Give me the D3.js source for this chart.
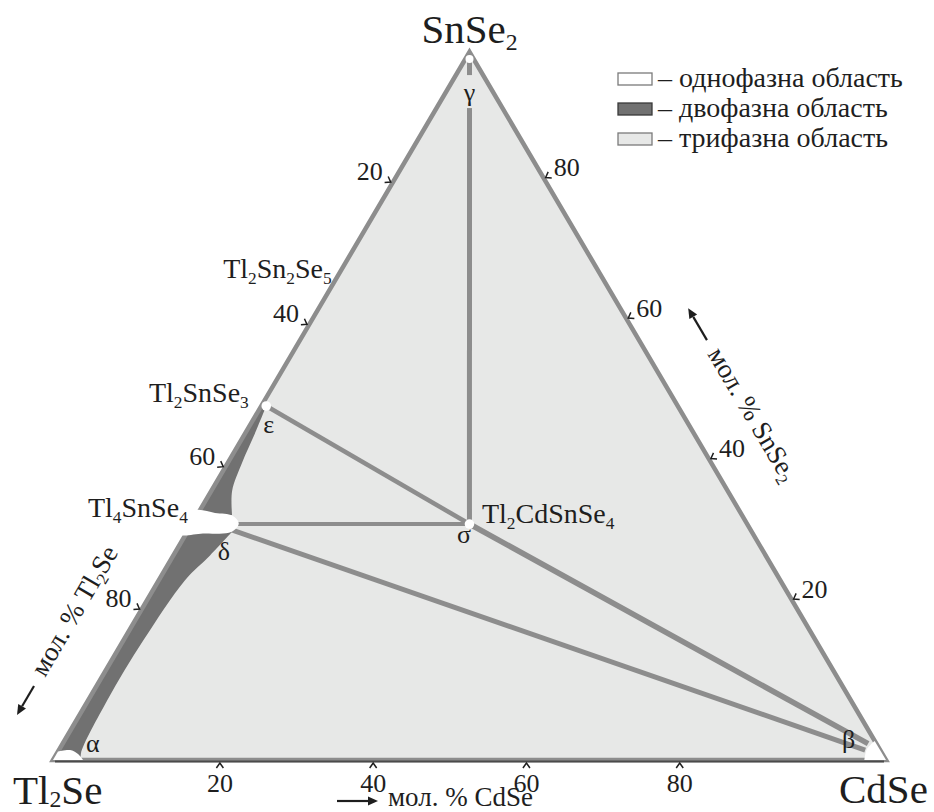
<!DOCTYPE html>
<html><head><meta charset="utf-8">
<script src="https://cdn.jsdelivr.net/npm/d3@7"></script>
<style>
body{margin:0;background:#fff;}
</style></head><body>
<svg id="chart" width="934" height="812"></svg>
<script>
// ---------------- DATA (compositions in mol. %: [CdSe, SnSe2]; Tl2Se = 100 - both) ----------------
const vertexLabels = ["Tl_2Se", "CdSe", "SnSe_2"];
const vertexComps  = [[0, 0], [100, 0], [0, 100]];
const tickValues   = [20, 40, 60, 80];
const axisTitles   = ["мол. % CdSe", "мол. % SnSe_2", "мол. % Tl_2Se"];
const legendLabels = ["однофазна область", "двофазна область", "трифазна область"];
const legendColors = ["#ffffff", "#717171", "#e7e8e7"];
const compoundNames = ["Tl_2Sn_2Se_5", "Tl_2SnSe_3", "Tl_4SnSe_4", "Tl_2CdSnSe_4"];
const compoundComps = [[0, 66.67], [0, 50], [0, 33.33], [33.33, 33.33]];
const phaseNames = ["α", "β", "γ", "δ", "ε", "σ"];

// single-phase points / regions
const pointGamma   = [0.5, 99];
const pointEpsilon = [0.6, 50];
const pointSigma   = [33.33, 33.33];
const alphaRegion  = [[0, 1.2], [1.34, 1.41], [2.58, 0.85], [3.6, 0]];
const betaRegion   = [[97.3, 2.68], [96.94, 1.54], [97.4, 0]];
const deltaRegion  = [[-0.7, 35.2], [2, 34.9], [4.3, 34.5], [5.6, 33.4], [5.3, 32.2], [2, 32.0], [-0.7, 31.9]];

// tie-line ends
const deltaTieTop    = [4.8, 33.33];
const deltaTieBottom = [5.2, 32.5];
const betaTieUpper   = [96.7, 2.3];
const betaTieLower   = [96.8, 1.4];
const tieLines = [
  [pointGamma, pointSigma],
  [pointEpsilon, pointSigma],
  [deltaTieTop, pointSigma],
  [pointSigma, betaTieUpper],
  [deltaTieBottom, betaTieLower]
];
const tieWidths = [5, 4.5, 4, 5.5, 5];

// two-phase regions (edge part + curved inner boundary)
const alphaDeltaEdge  = [[0, 0], [0, 32.3]];
const alphaDeltaInner = [[5.4, 32.3], [4.4, 28.9], [3.15, 25.4], [2.4, 16.9], [2.3, 8.5], [2.9, 0.9], [3.4, 0]];
const deltaEpsEdge    = [[0, 34.6], [0, 50]];
const deltaEpsInner   = [[0.6, 50], [1.2, 46], [1.7, 42], [2.5, 38], [4.2, 34.6]];

// ---------------- LAYOUT ----------------
const FONT = "'Liberation Serif', 'Times New Roman', serif";
const svg = d3.select("#chart");
const xS = d3.scaleLinear().domain([0, 100]).range([53, 886]);
const yS = d3.scaleLinear().domain([0, 100]).range([760, 52]);
const P = c => [xS(c[0] + c[1] / 2), yS(c[1])];

// printed tick scales (as drawn in the original figure)
const bottomTick = d3.scaleLinear().domain([0, 100]).range([66.6, 833]);
const leftTick   = d3.scaleLinear().domain([0, 100]).range([40.7, 752.3]);   // Tl2Se % -> y
const rightTick  = d3.scaleLinear().domain([0, 100]).range([740.5, 38]);     // SnSe2 % -> y

const V = vertexComps.map(P); // [Tl2Se, CdSe, SnSe2]
const col = {fill: "#e7e8e7", dark: "#717171", line: "#8d8d8d", text: "#1e1e1e"};

function txt(parent, x, y, size, anchor) {
  return parent.append("text").attr("x", x).attr("y", y).attr("font-size", size)
    .attr("text-anchor", anchor || "start").style("font-family", FONT).attr("fill", col.text);
}
function rich(sel, str, subScale, shift) {
  const fs = parseFloat(sel.attr("font-size"));
  const parts = str.split(/_(\d)/);
  parts.forEach((p, i) => {
    if (!p) return;
    if (i % 2 === 1) {
      sel.append("tspan").attr("font-size", fs * subScale).attr("dy", shift).text(p);
    } else {
      const t = sel.append("tspan").text(p);
      if (i > 0) t.attr("dy", -shift);
    }
  });
  return sel;
}

// triangle fill
svg.append("path").attr("d", "M" + V.map(v => v.join(",")).join("L") + "Z").attr("fill", col.fill);

// two-phase dark regions
const curveLine = d3.line().x(d => P(d)[0]).y(d => P(d)[1]).curve(d3.curveCatmullRom);
function bandPath(edge, inner) {
  const e = edge.map(P);
  return "M" + e[0].join(",") + "L" + e[1].join(",") + "L" + curveLine(inner).slice(1) + "Z";
}
svg.append("path").attr("d", bandPath(alphaDeltaEdge, alphaDeltaInner)).attr("fill", col.dark);
svg.append("path").attr("d", bandPath(deltaEpsEdge, deltaEpsInner)).attr("fill", col.dark);

// tie lines
svg.selectAll("line.tie").data(tieLines).join("line").attr("class", "tie")
  .attr("x1", d => P(d[0])[0]).attr("y1", d => P(d[0])[1])
  .attr("x2", d => P(d[1])[0]).attr("y2", d => P(d[1])[1])
  .attr("stroke", col.line).attr("stroke-width", (d, i) => tieWidths[i]);

// triangle edges
svg.append("path").attr("d", "M" + V.map(v => v.join(",")).join("L") + "Z")
  .attr("fill", "none").attr("stroke", col.line).attr("stroke-width", 4.5).attr("stroke-linejoin", "miter");
svg.append("line").attr("x1", V[0][0] + 2).attr("x2", V[1][0] - 2).attr("y1", V[0][1] + 1.5).attr("y2", V[1][1] + 1.5)
  .attr("stroke", "#4a4a4a").attr("stroke-width", 1.8);

// single-phase regions (white)
function cornerPath(corner, arc) {
  const c = P(corner);
  return "M" + c.join(",") + "L" + curveLine(arc).slice(1) + "Z";
}
svg.append("path").attr("d", cornerPath(vertexComps[0], alphaRegion)).attr("fill", "#fff");
svg.append("path").attr("d", cornerPath(vertexComps[1], betaRegion)).attr("fill", "#fff");
svg.append("path").attr("d", d3.line().x(d => P(d)[0]).y(d => P(d)[1]).curve(d3.curveCatmullRomClosed)(deltaRegion))
  .attr("fill", "#fff");
svg.selectAll("circle.pt").data([pointGamma, pointEpsilon, pointSigma]).join("circle").attr("class", "pt")
  .attr("cx", d => P(d)[0]).attr("cy", d => P(d)[1]).attr("r", (d, i) => i === 0 ? 4 : 4.8)
  .attr("fill", "#fff");

// ---------------- ticks ----------------
const dirL = [(V[2][0] - V[0][0]), (V[2][1] - V[0][1])]; const lenL = Math.hypot(...dirL);
const tL = [dirL[0] / lenL, dirL[1] / lenL]; const nL = [-tL[1], tL[0]];          // inward normal (right/down)
const dirR = [(V[2][0] - V[1][0]), (V[2][1] - V[1][1])]; const lenR = Math.hypot(...dirR);
const tR = [dirR[0] / lenR, dirR[1] / lenR]; const nR = [tR[1], -tR[0]];          // inward normal (left/down)
const leftX  = y => V[2][0] + (V[0][0] - V[2][0]) * (y - V[2][1]) / (V[0][1] - V[2][1]);
const rightX = y => V[2][0] + (V[1][0] - V[2][0]) * (y - V[2][1]) / (V[1][1] - V[2][1]);

function chevron(T, n, t, len, half) {
  const a = [T[0] - n[0] * len + t[0] * half, T[1] - n[1] * len + t[1] * half];
  const b = [T[0] - n[0] * len - t[0] * half, T[1] - n[1] * len - t[1] * half];
  return "M" + a.join(",") + "L" + T.join(",") + "L" + b.join(",");
}
const tickG = svg.append("g").attr("fill", "none").attr("stroke", col.text).attr("stroke-width", 1.5);
const tickLab = svg.append("g");

tickValues.forEach(v => {
  const Tb = [bottomTick(v), V[0][1] + 3];
  tickG.append("path").attr("d", chevron(Tb, [0, -1], [1, 0], 5, 3.5));
  txt(tickLab, Tb[0], 792, 26, "middle").text(v);
  const yl = leftTick(v);
  const Tl = [leftX(yl) - nL[0] * 2, yl - nL[1] * 2];
  tickG.append("path").attr("d", chevron(Tl, nL, tL, 5, 3.5));
  txt(tickLab, Tl[0] - 8, Tl[1] - 2, 26, "end").text(v);
  const yr = rightTick(v);
  const Tr = [rightX(yr) - nR[0] * 2, yr - nR[1] * 2];
  tickG.append("path").attr("d", chevron(Tr, nR, tR, 5, 3.5));
  txt(tickLab, Tr[0] + 8, Tr[1] - 1, 26, "start").text(v);
});

// ---------------- axis titles ----------------
function arrow(g, x1, y1, x2, y2) {
  const dx = x2 - x1, dy = y2 - y1, L = Math.hypot(dx, dy), ux = dx / L, uy = dy / L;
  const hx = x2 - ux * 10, hy = y2 - uy * 10;
  g.append("line").attr("x1", x1).attr("y1", y1).attr("x2", hx).attr("y2", hy)
    .attr("stroke", col.text).attr("stroke-width", 2.2);
  g.append("path").attr("d", `M${x2},${y2}L${hx - uy * 4.5},${hy + ux * 4.5}L${hx + uy * 4.5},${hy - ux * 4.5}Z`)
    .attr("fill", col.text);
}
const angle = Math.atan2(V[2][1] - V[0][1], V[2][0] - V[0][0]) * 180 / Math.PI;

const bt = svg.append("g");
arrow(bt, 337, 801, 378, 801);
rich(txt(bt, 388, 806, 27), axisTitles[0], 0.62, 5);
const rt = svg.append("g").attr("transform", `translate(707,354) rotate(${-angle})`);
arrow(rt, -12, -7, -49, -7);
rich(txt(rt, 0, 0, 27), axisTitles[1], 0.62, 5);
const lt = svg.append("g").attr("transform", `translate(45,678) rotate(${angle})`);
arrow(lt, -12.5, -5.4, -46, -5.4);
rich(txt(lt, 0, 0, 27), axisTitles[2], 0.62, 5);

// ---------------- vertex labels ----------------
const vOff = [[-40, 44, "start"], [-47, 43, "start"], [0, -9, "middle"]];
vertexLabels.forEach((s, i) => {
  const p = V[i];
  rich(txt(svg, p[0] + vOff[i][0], p[1] + vOff[i][1], 41, vOff[i][2]), s, 0.58, i === 0 ? 3 : 7);
});

// ---------------- compound labels ----------------
const cOff = [[1, -10, "end"], [-12.5, -4, "end"], [-4, -7, "end"], [12.5, -1, "start"]];
compoundNames.forEach((s, i) => {
  const p = P(compoundComps[i]);
  rich(txt(svg, p[0] + cOff[i][0], p[1] + cOff[i][1], 28, cOff[i][2]), s, 0.62, 6);
});

// ---------------- phase labels ----------------
const phaseAnchors = [vertexComps[0], vertexComps[1], pointGamma, deltaTieBottom, pointEpsilon, pointSigma];
const pOff = [[33, -8], [-44, -12], [0, 42], [-14, 30], [-3, 27], [-12.5, 19]];
phaseNames.forEach((s, i) => {
  const p = P(phaseAnchors[i]);
  const t = txt(svg, p[0] + pOff[i][0], p[1] + pOff[i][1], 26, i === 2 ? "middle" : "start").text(s);
  if (i === 2) {
    const bb = t.node().getBBox();
    svg.insert("rect", () => t.node()).attr("x", bb.x).attr("y", bb.y - 3).attr("width", bb.width).attr("height", bb.height + 4)
      .attr("fill", col.fill);
  }
});

// ---------------- legend ----------------
const lg = svg.append("g");
legendLabels.forEach((s, i) => {
  const y = 73 + i * 30;
  lg.append("rect").attr("x", 618).attr("y", y).attr("width", 34).attr("height", 12)
    .attr("fill", legendColors[i]).attr("stroke", i === 1 ? "#3a3a3a" : "#7a7a7a").attr("stroke-width", 1.3);
  txt(lg, 658, y + 14, 28).text("– " + s);
});
</script>
</body></html>
